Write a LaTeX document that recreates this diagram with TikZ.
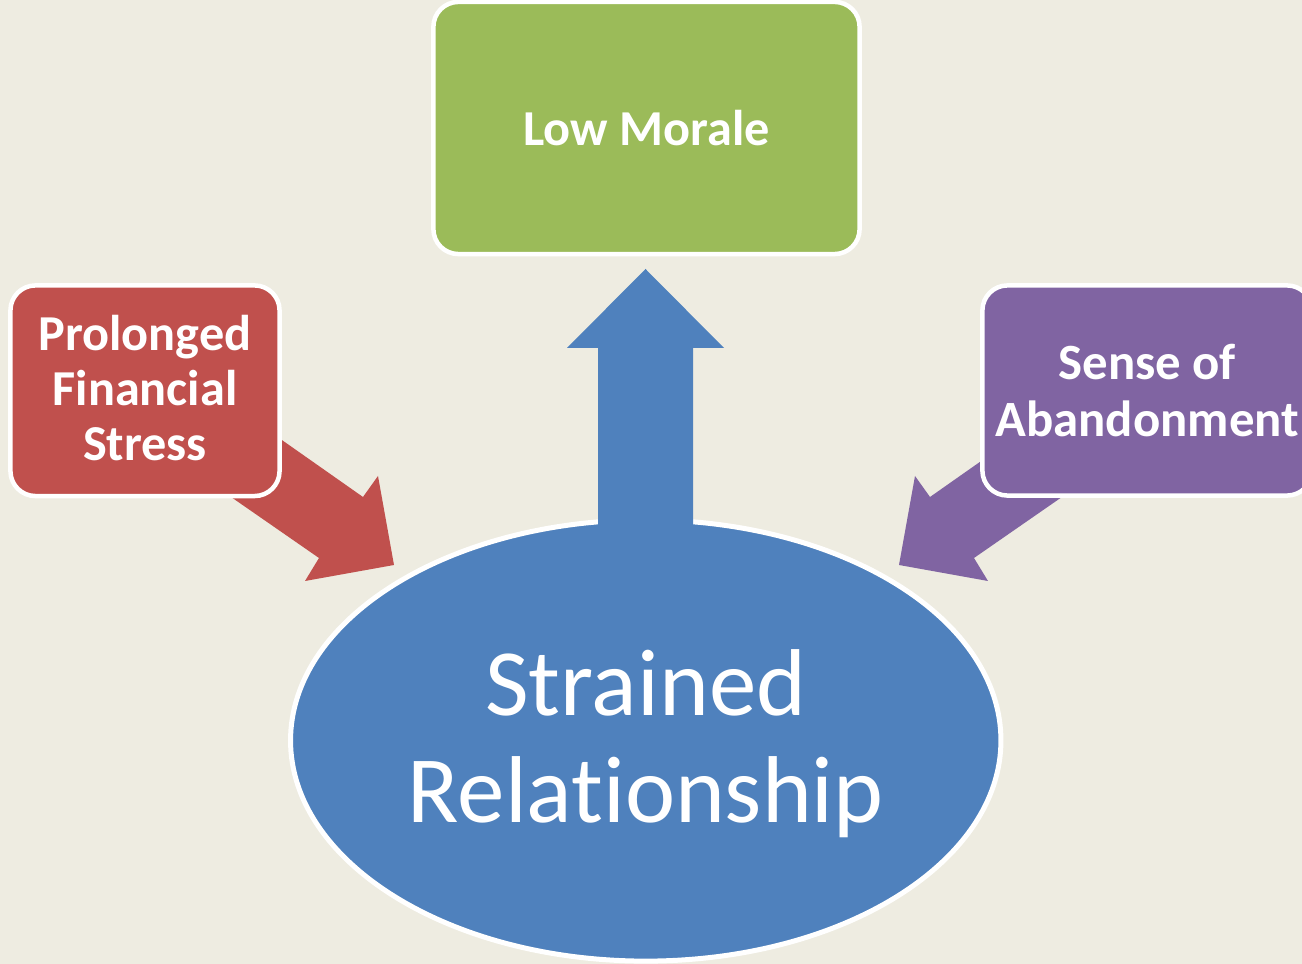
\documentclass[tikz,border=0pt]{standalone}
\usepackage{fontspec}
\setmainfont{Carlito}[Ligatures={NoCommon}]
\usetikzlibrary{shapes.geometric}
\definecolor{bgc}{HTML}{EEECE1}
\definecolor{greenc}{HTML}{9BBB59}
\definecolor{redc}{HTML}{C0504D}
\definecolor{purplec}{HTML}{8064A2}
\definecolor{bluec}{HTML}{4F81BD}
\begin{document}
\begin{tikzpicture}[x=0.01cm,y=-0.01cm,
  box/.style={rectangle, rounded corners=0.25cm, draw=white, line width=0.045cm,
    text=white, align=center, inner sep=0pt,
    font=\fontsize{14.3pt}{15.6pt}\selectfont\bfseries},
  blob/.style={ellipse, draw=white, line width=0.05cm, fill=bluec, text=white,
    align=center, inner sep=0pt, minimum width=7.1cm, minimum height=4.41cm,
    font=\fontsize{27pt}{30.4pt}\selectfont},
  blockarrow/.style={draw=none}
]
\useasboundingbox (0,0) rectangle (1302,964);
\fill[bgc] (0,0) rectangle (1302,964);
\clip (0,0) rectangle (1302,964);

% central ellipse
\node[blob] (rel) at (645.75,740.5) {\raisebox{-0.07cm}[\height][\depth]{\begin{tabular}{@{}c@{}}Strained\\Relationship\end{tabular}}};

% up arrow
\fill[bluec, blockarrow] (598,560) -- (598,348) -- (567,348) -- (645.5,269) -- (724,348) -- (693,348) -- (693,560) -- cycle;

% red arrow
\fill[redc, blockarrow] (200,382.5) -- (363,497) -- (378,476) -- (394,565) -- (305,581) -- (319,558) -- (151,441.5) -- cycle;

% purple arrow
\fill[purplec, blockarrow] (1093,382.5) -- (930,497) -- (915,476) -- (899,565) -- (988,581) -- (974,558) -- (1142,441.5) -- cycle;

% boxes
\node[box, fill=greenc, minimum width=4.26cm, minimum height=2.52cm] (low) at (646.5,128) {Low Morale};
\node[box, fill=redc, minimum width=2.69cm, minimum height=2.105cm] (fin) at (145,390.75) {\raisebox{-0.035cm}[\height][\depth]{\begin{tabular}{@{}c@{}}Prolonged\\Financial\\Stress\end{tabular}}};
\node[box, fill=purplec, minimum width=3.295cm, minimum height=2.10cm,
  font=\fontsize{14.45pt}{16.2pt}\selectfont\bfseries] (aban) at (1147.25,390.5) {Sense of\\Abandonment};
\end{tikzpicture}
\end{document}
